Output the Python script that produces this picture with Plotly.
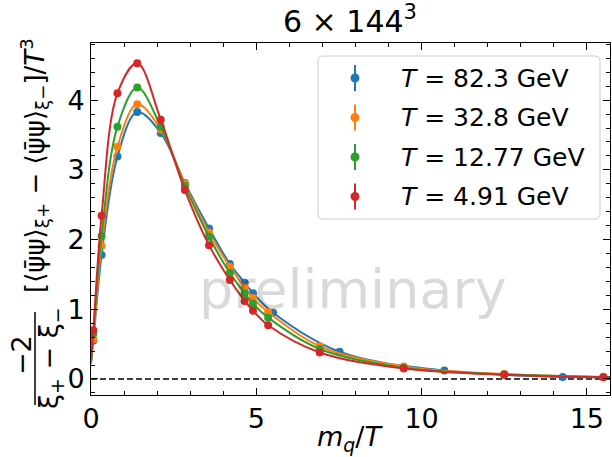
import plotly.graph_objects as go

# ---------------- data ----------------
labels = ["82.3", "32.8", "12.77", "4.91"]
colors = ["#1f77b4", "#ff7f0e", "#2ca02c", "#d62728"]

x_blue = [0.07, 0.32, 0.80, 1.40, 2.11, 2.84, 3.57, 4.20, 4.65, 4.90, 5.51, 7.52, 10.69, 14.27]
y_blue = [0.55, 1.78, 3.19, 3.83, 3.53, 2.81, 2.16, 1.65, 1.38, 1.23, 0.95, 0.39, 0.12, 0.03]

x_orange = [0.07, 0.32, 0.80, 1.40, 2.11, 2.84, 3.57, 4.20, 4.65, 4.90, 5.36, 6.92, 9.46, 12.5, 15.5]
y_orange = [0.57, 1.91, 3.33, 3.94, 3.58, 2.80, 2.10, 1.61, 1.31, 1.16, 0.96, 0.47, 0.18, 0.07, 0.03]

x_green = [0.07, 0.32, 0.80, 1.40, 2.11, 2.84, 3.57, 4.20, 4.65, 4.90, 5.36, 6.92, 9.46, 12.5, 15.5]
y_green = [0.65, 2.05, 3.62, 4.18, 3.62, 2.77, 2.04, 1.52, 1.23, 1.08, 0.88, 0.43, 0.16, 0.065, 0.028]

x_red = [0.07, 0.32, 0.80, 1.40, 2.11, 2.84, 3.57, 4.20, 4.65, 4.90, 5.36, 6.92, 9.46, 12.5, 15.5]
y_red = [0.70, 2.34, 4.10, 4.53, 3.72, 2.71, 1.92, 1.42, 1.12, 0.98, 0.77, 0.38, 0.15, 0.06, 0.025]

# fit curve end points
fit_x_start = 0.0
fit_y_start = [0.22, 0.24, 0.26, 0.28]
fit_x_end = 15.7
fit_y_end = [0.025, 0.027, 0.026, 0.024]

xs = [x_blue, x_orange, x_green, x_red]
ys = [y_blue, y_orange, y_green, y_red]

x_ticks = [0, 5, 10, 15]
y_ticks = [0, 1, 2, 3, 4]

# ---------------- layout geometry ----------------
W, H = 612, 457
ML, MR, MT, MB = 91, 2, 43, 62
PW, PH = W - ML - MR, H - MT - MB


def px(xp):
    return (xp - ML) / PW


def py(yp):
    return (H - MB - yp) / PH


FONT = "DejaVu Sans"

fig = go.Figure()
for i in range(4):
    fx = [fit_x_start] + xs[i] + [fit_x_end]
    fy = [fit_y_start[i]] + ys[i] + [fit_y_end[i]]
    fig.add_trace(go.Scatter(x=fx, y=fy, mode="lines",
                             line=dict(color=colors[i], width=2, shape="spline", smoothing=1),
                             showlegend=False, hoverinfo="skip"))
    fig.add_trace(go.Scatter(x=xs[i], y=ys[i], mode="markers",
                             marker=dict(color=colors[i], size=8),
                             name="T = %s GeV" % labels[i], showlegend=False))

axis_common = dict(showline=True, linecolor="black", linewidth=1, mirror="allticks",
                   ticks="inside", ticklen=7, tickwidth=1, tickcolor="black",
                   showgrid=False, zeroline=False,
                   tickfont=dict(family=FONT, size=27, color="black"))

fig.update_xaxes(range=[0, 15.7], tickvals=x_ticks,
                 minor=dict(ticks="inside", dtick=1, ticklen=4, tickcolor="black", showgrid=False),
                 **axis_common)
fig.update_yaxes(range=[-0.23, 4.82], tickvals=y_ticks,
                 minor=dict(ticks="inside", dtick=0.2, tick0=0, ticklen=4, tickcolor="black", showgrid=False),
                 **axis_common)

shapes = []
# zero dashed line
shapes.append(dict(type="line", xref="paper", x0=0, x1=1, yref="y", y0=0, y1=0,
                   line=dict(color="black", width=1.5, dash="6px,3px"), layer="below"))

# legend box (rounded)
lx0, lx1, ly0, ly1 = px(318), px(600), py(219), py(56)
rx, ry = 5 / PW, 5 / PH
path = (f"M {lx0+rx},{ly0} L {lx1-rx},{ly0} Q {lx1},{ly0} {lx1},{ly0+ry} "
        f"L {lx1},{ly1-ry} Q {lx1},{ly1} {lx1-rx},{ly1} "
        f"L {lx0+rx},{ly1} Q {lx0},{ly1} {lx0},{ly1-ry} "
        f"L {lx0},{ly0+ry} Q {lx0},{ly0} {lx0+rx},{ly0} Z")
shapes.append(dict(type="path", xref="paper", yref="paper", path=path,
                   line=dict(color="#cccccc", width=1), fillcolor="rgba(255,255,255,0.8)", layer="above"))

annotations = []
rows = [78, 117.5, 157, 196.5]
for i, r in enumerate(rows):
    shapes.append(dict(type="line", xref="paper", yref="paper", x0=px(355), x1=px(355),
                       y0=py(r + 13), y1=py(r - 13), line=dict(color=colors[i], width=2), layer="above"))
    shapes.append(dict(type="circle", xref="paper", yref="paper", xsizemode="pixel", ysizemode="pixel",
                       xanchor=px(355), yanchor=py(r), x0=-4.5, x1=4.5, y0=-4.5, y1=4.5,
                       fillcolor=colors[i], line=dict(color=colors[i], width=0), layer="above"))
    annotations.append(dict(xref="paper", yref="paper", x=px(399), y=py(r), xanchor="left", yanchor="middle",
                            text="<i>T</i> = %s GeV" % labels[i], showarrow=False,
                            font=dict(family=FONT, size=25, color="black")))

# fraction bar of the y label
shapes.append(dict(type="line", xref="paper", yref="paper", x0=px(35), x1=px(35),
                   y0=py(405), y1=py(312), line=dict(color="black", width=1.5)))

# watermark
annotations.append(dict(xref="paper", yref="paper", x=px(353), y=py(289), xanchor="center", yanchor="middle",
                        text="preliminary", showarrow=False,
                        font=dict(family=FONT, size=54, color="rgba(0,0,0,0.15)")))
# title
annotations.append(dict(xref="paper", yref="paper", x=px(350), y=py(20), xanchor="center", yanchor="middle",
                        text="6 × 144<sup>3</sup>", showarrow=False,
                        font=dict(family=FONT, size=30, color="black")))
# x label
annotations.append(dict(xref="paper", yref="paper", x=px(350), y=py(438), xanchor="center", yanchor="middle",
                        text="<i>m</i><sub><i>q</i></sub>/<i>T</i>", showarrow=False,
                        font=dict(family=FONT, size=27, color="black")))
# y label pieces
annotations.append(dict(xref="paper", yref="paper", x=px(34), y=py(166), xanchor="center", yanchor="middle",
                        textangle=-90,
                        text="[⟨ψ̄ψ⟩<sub>ξ+</sub> − ⟨ψ̄ψ⟩<sub>ξ−</sub>]/<i>T</i><sup>3</sup>", showarrow=False,
                        font=dict(family=FONT, size=26, color="black")))
annotations.append(dict(xref="paper", yref="paper", x=px(21), y=py(355), xanchor="center", yanchor="middle",
                        textangle=-90, text="−2", showarrow=False,
                        font=dict(family=FONT, size=27, color="black")))
annotations.append(dict(xref="paper", yref="paper", x=px(50), y=py(358), xanchor="center", yanchor="middle",
                        textangle=-90, text="ξ<sub>+</sub> − ξ<sub>−</sub>", showarrow=False,
                        font=dict(family=FONT, size=27, color="black")))

fig.update_layout(width=W, height=H, margin=dict(l=ML, r=MR, t=MT, b=MB),
                  paper_bgcolor="white", plot_bgcolor="white",
                  shapes=shapes, annotations=annotations, showlegend=False,
                  font=dict(family=FONT, color="black"))

fig.write_html("out.html")
